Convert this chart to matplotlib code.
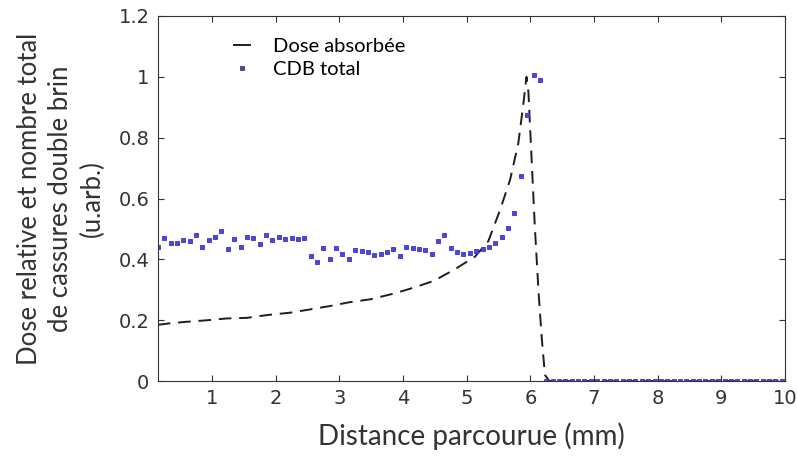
import numpy as np
import matplotlib
matplotlib.use("Agg")
from matplotlib import pyplot as plt

# CDB total (points every 0.1 mm)
cdb_x = np.round(np.arange(0.15, 10.0, 0.1), 2)
cdb_y = [0.442, 0.471, 0.455, 0.453, 0.464, 0.462, 0.480, 0.440, 0.464, 0.475,
         0.493, 0.433, 0.466, 0.440, 0.473, 0.469, 0.450, 0.480, 0.464, 0.473,
         0.466, 0.469, 0.467, 0.469, 0.411, 0.390, 0.436, 0.401, 0.436, 0.417,
         0.401, 0.431, 0.429, 0.425, 0.414, 0.418, 0.423, 0.434, 0.412, 0.442,
         0.438, 0.434, 0.431, 0.418, 0.462, 0.480, 0.436, 0.425, 0.417, 0.422,
         0.429, 0.433, 0.442, 0.455, 0.475, 0.504, 0.554, 0.674, 0.875, 1.007,
         0.990] + [0.0] * 38

# Dose absorbee
dose_x = [0.15, 0.34, 0.60, 0.92, 1.23, 1.55, 1.86, 2.23, 2.55, 2.86, 3.15,
          3.49, 3.86, 4.18, 4.49, 4.81, 5.13, 5.34, 5.52, 5.68, 5.81, 5.89,
          5.94, 5.97, 6.02, 6.07, 6.13, 6.18, 6.23, 6.30, 10.0]
dose_y = [0.185, 0.190, 0.195, 0.200, 0.206, 0.208, 0.217, 0.225, 0.236, 0.247,
          0.259, 0.269, 0.288, 0.308, 0.330, 0.367, 0.409, 0.460, 0.560, 0.660,
          0.780, 0.910, 1.000, 0.950, 0.730, 0.510, 0.290, 0.140, 0.020, 0.0, 0.0]

fig = plt.figure(figsize=(7.97, 4.57), dpi=100)
ax = fig.add_axes([0.198, 0.166, 0.787, 0.799])

ax.plot(dose_x, dose_y, color="#1e1e1e", lw=1.4, dashes=(6.5, 4), label="Dose absorbée")
ax.plot(cdb_x[:len(cdb_y)], cdb_y, ls="none", marker="s", ms=3.0, color="#4f45e6",
        mec="#3b32c8", mew=0.6, label="CDB total")

ax.set_xlim(0.15, 10)
ax.set_ylim(0, 1.2)
ax.set_xticks(range(1, 11))
ax.set_yticks([0, 0.2, 0.4, 0.6, 0.8, 1, 1.2])
ax.set_yticklabels(["0", "0.2", "0.4", "0.6", "0.8", "1", "1.2"])
ax.tick_params(direction="in", labelsize=14, top=True, right=True, length=4, colors="#333333",
               labelcolor="#333333", pad=6)
for s in ax.spines.values():
    s.set_color("#333333")

ax.set_xlabel("Distance parcourue (mm)", fontsize=20, family="Lato", color="#333333", labelpad=10)
ax.set_ylabel("Dose relative et nombre total\nde cassures double brin\n(u.arb.)",
              fontsize=18.5, family="Lato", color="#333333", labelpad=10, linespacing=1.32,
              multialignment="center")

leg = ax.legend(loc="upper left", bbox_to_anchor=(0.093, 0.99), frameon=False,
                prop={"family": "Lato", "size": 14.5}, handlelength=0.8, handletextpad=1.1,
                labelspacing=0.3)
leg.legend_handles[0].set_dashes((None, None))
leg.legend_handles[0].set_linestyle("-")
leg.legend_handles[1].set_markersize(2.5)
leg.legend_handles[1].set_color("#555555")

plt.savefig("out.png", dpi=100)
